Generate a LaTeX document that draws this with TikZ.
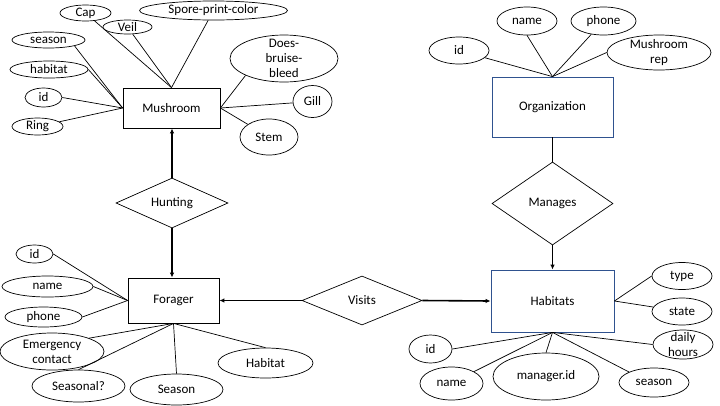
\documentclass[tikz,border=0pt]{standalone}
\usepackage{fontspec}
\setmainfont{Carlito}
\usetikzlibrary{shapes.geometric,arrows.meta}
\definecolor{entblue}{HTML}{2F528F}
\begin{document}
\begin{tikzpicture}[x=1pt,y=-1pt, font=\fontsize{13}{15}\selectfont,
 ent/.style n args={2}{draw, rectangle, line width=0.8pt, minimum width=#1, minimum height=#2, inner sep=0pt},
 rel/.style n args={2}{draw, diamond, aspect=2, line width=0.7pt, minimum width=#1, minimum height=#2, inner sep=0pt},
 attr/.style n args={3}{draw, ellipse, line width=0.7pt, minimum width=#1, minimum height=#2, inner sep=0pt, label={[align=center,inner sep=0pt]center:#3}},
 link/.style={line width=0.7pt},
 strong/.style={line width=1.6pt},
 arr/.style={line width=1.6pt, -{Latex[length=5pt,width=4.5pt]}},
]
\fill[white] (0,0) rectangle (720,405);
\useasboundingbox (0,0) rectangle (720,405);

% Mushroom
\node[ent={97pt}{40pt}] (mush) at (171.5,108) {Mushroom};
\node[attr={51pt}{16pt}{Cap}] (cap) at (85.5,13) {};
\node[attr={49pt}{14pt}{Veil}] (veil) at (127.5,27) {};
\node[attr={148pt}{19pt}{Spore-print-color}] (spore) at (213.5,10.5) {};
\node[attr={73pt}{16pt}{season}] (seasonM) at (48.5,40) {};
\node[attr={78pt}{17pt}{habitat}] (habitatM) at (49,69.5) {};
\node[attr={37pt}{19pt}{id}] (idM) at (43.5,97.5) {};
\node[attr={51pt}{17pt}{Ring}] (ring) at (37.5,126.5) {};
\node[attr={108pt}{47pt}{Does-\\bruise-\\bleed}] (dbb) at (284,58.5) {};
\node[attr={39pt}{32pt}{Gill}] (gill) at (312.5,101.5) {};
\node[attr={58pt}{36pt}{Stem}] (stem) at (269,137) {};

\draw[link] (cap) -- (mush.north);
\draw[link] (veil) -- (mush.north);
\draw[link] (spore) -- (mush.north);
\draw[link] (seasonM.south east) -- (mush.west);
\draw[link] (habitatM.east) -- (mush.west);
\draw[link] (idM.east) -- (mush.west);
\draw[link] (ring) -- (mush.west);
\draw[link] (dbb.south west) -- (mush.east);
\draw[link] (gill) -- (mush.east);
\draw[link] (stem) -- (mush.east);

% Hunting
\node[rel={112pt}{50pt}] (hunt) at (172,203) {Hunting};

% Forager
\node[ent={91pt}{45pt}] (forager) at (173.5,300.5) {Forager};
\node[attr={37pt}{18pt}{id}] (idF) at (34.5,254) {};
\node[attr={91pt}{21pt}{name}] (nameF) at (47.5,286.5) {};
\node[attr={77pt}{20pt}{phone}] (phoneF) at (43.5,317) {};
\node[attr={104pt}{37pt}{Emergency\\contact}] (emerg) at (52,351.5) {};
\node[attr={93pt}{32pt}{Seasonal?}] (seasonal) at (78.5,386) {};
\node[attr={93pt}{31pt}{Season}] (seasonF) at (176.5,389.5) {};
\node[attr={95pt}{30pt}{Habitat}] (habitatF) at (265.5,363) {};

\draw[link] (idF.east) -- (forager.west);
\draw[link] (nameF.east) -- (forager.west);
\draw[link] (phoneF.east) -- (forager.west);
\draw[link] (emerg.north east) -- (forager.south);
\draw[link] (seasonal.north) -- (forager.south);
\draw[link] (seasonF.north) -- (forager.south);
\draw[link] (habitatF.north) -- (forager.south);

\draw[arr] (hunt.north) -- (hunt.north |- mush.south);
\draw[arr] (hunt.south) -- (hunt.south |- forager.north);

% Organization
\node[ent={121pt}{60pt}, draw=entblue] (org) at (552.5,107) {Organization};
\node[attr={60pt}{27pt}{id}] (idO) at (459,50.5) {};
\node[attr={60pt}{28pt}{name}] (nameO) at (527,21) {};
\node[attr={65pt}{28pt}{phone}] (phoneO) at (603.5,21) {};
\node[attr={104pt}{35pt}{Mushroom\\rep}] (mrep) at (659,52.5) {};

\draw[link] (idO) -- (org.north);
\draw[link] (nameO.south) -- (org.north);
\draw[link] (phoneO) -- (org.north);
\draw[link] (mrep.west) -- (org.north);

% Manages
\node[rel={121pt}{83pt}] (man) at (552.5,203.5) {Manages};
\draw[strong] (org.south) -- (man.north);

% Habitats
\node[ent={123pt}{62pt}, draw=entblue] (hab) at (552.5,301) {Habitats};
\node[attr={60pt}{27pt}{type}] (type) at (682,276) {};
\node[attr={60pt}{27pt}{state}] (state) at (682,311.5) {};
\node[attr={60pt}{29pt}{daily\\hours}] (daily) at (683,344.5) {};
\node[attr={70pt}{29pt}{season}] (seasonH) at (654,382.5) {};
\node[attr={106pt}{47pt}{manager.id}] (mgrid) at (546,376.5) {};
\node[attr={63pt}{33pt}{name}] (nameH) at (451.5,383.5) {};
\node[attr={43pt}{28pt}{id}] (idH) at (430.5,349) {};

\draw[link] (type.west) -- (hab.east);
\draw[link] (state) -- (hab.east);
\draw[link] (idH.east) -- (hab.south);
\draw[link] (nameH.north east) -- (hab.south);
\draw[link] (mgrid.north) -- (hab.south);
\draw[link] (seasonH.north west) -- (hab.south);
\draw[link] (daily.west) -- (hab.south);

\draw[arr] (man.south) -- (hab.north);

% Visits
\node[rel={120pt}{49pt}] (visits) at (362,300.5) {Visits};
\draw[arr] (visits.west) -- (forager.east);
\draw[arr] (visits.east) -- (hab.west);
\end{tikzpicture}
\end{document}
